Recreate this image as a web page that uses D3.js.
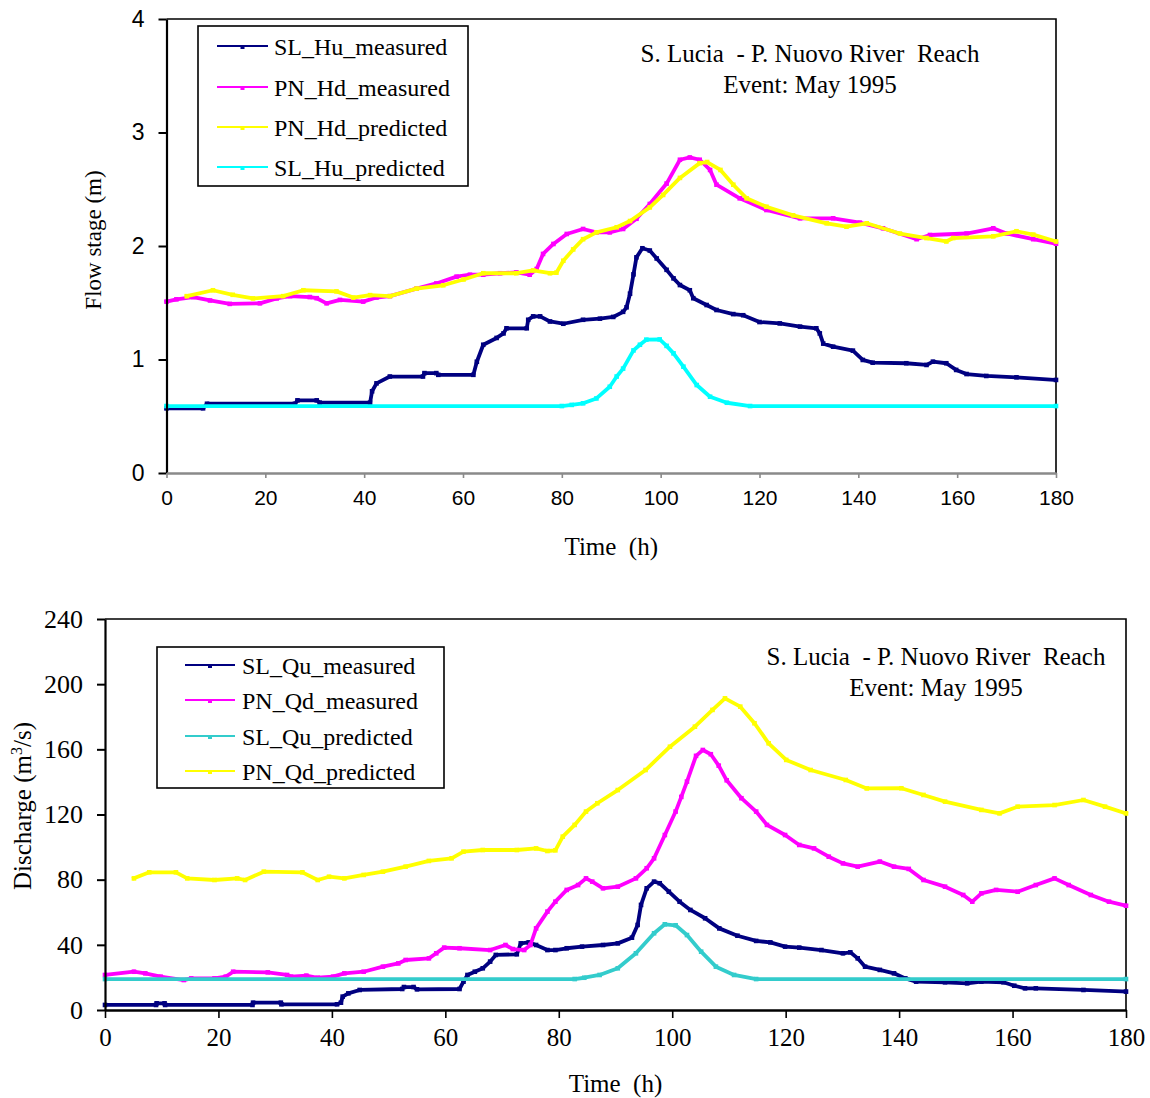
<!DOCTYPE html>
<html>
<head>
<meta charset="utf-8">
<script src="https://cdn.jsdelivr.net/npm/d3@7"></script>
<style>
  html, body { margin: 0; padding: 0; background: #fff; }
  svg { display: block; }
  text { font-family: "Liberation Serif", "Times New Roman", serif; fill: #000; }
</style>
</head>
<body>
<svg id="chart" width="1150" height="1098"></svg>
<script>
// ---- Time axis (hours) ----
const timeTicks = [0, 20, 40, 60, 80, 100, 120, 140, 160, 180];

// ---- Flow stage (m), upper panel: [time h, stage m] ----
const stageTicks = [0, 1, 2, 3, 4];
const slHuMeasured = [[0,0.57],[7.4,0.57],[8.2,0.61],[26,0.61],[26.5,0.64],[30.4,0.64],[31,0.62],[41.2,0.62],[41.6,0.72],[42.5,0.79],[45.2,0.85],[51.9,0.85],[52.2,0.88],[54.6,0.88],[55,0.865],[62.1,0.865],[62.8,0.98],[64.1,1.13],[66.8,1.19],[68.2,1.23],[68.8,1.275],[72.9,1.275],[73.2,1.35],[74.2,1.38],[75.6,1.38],[77.6,1.335],[80.3,1.315],[84.3,1.35],[87.7,1.36],[90.4,1.375],[92.4,1.42],[93.1,1.46],[93.8,1.58],[94.5,1.75],[95.1,1.9],[96.3,1.98],[97.8,1.96],[99.2,1.89],[101.2,1.79],[102.6,1.715],[103.9,1.656],[105.9,1.61],[106.6,1.54],[109.3,1.48],[111.3,1.436],[114.7,1.4],[116.7,1.39],[120,1.33],[124.1,1.318],[128.2,1.29],[131.5,1.275],[132.2,1.23],[132.9,1.14],[134.9,1.113],[138.9,1.078],[140.9,0.996],[142.9,0.972],[149.7,0.967],[153.8,0.952],[155.1,0.981],[157.8,0.967],[159.8,0.908],[161.9,0.872],[165.9,0.855],[172,0.843],[180,0.82]];
const pnHdMeasured = [[0,1.51],[2,1.53],[5.4,1.55],[8.8,1.52],[12.8,1.49],[18.9,1.495],[22.3,1.538],[25,1.558],[29,1.55],[30.4,1.54],[32.4,1.495],[35.1,1.525],[39.8,1.51],[42.5,1.546],[45.2,1.558],[50.6,1.625],[54.6,1.67],[58.7,1.73],[61.4,1.747],[64.1,1.747],[67.5,1.76],[70.8,1.767],[73.5,1.747],[74.9,1.797],[76.2,1.93],[78.3,2.018],[81,2.106],[84.3,2.15],[87,2.12],[89.7,2.12],[92.4,2.15],[95.1,2.24],[97.8,2.37],[101.2,2.55],[103.9,2.76],[105.9,2.78],[107.9,2.76],[110,2.67],[111.3,2.54],[116,2.42],[121.4,2.317],[128.2,2.244],[134.9,2.244],[140.3,2.206],[145,2.156],[151.8,2.06],[154.5,2.097],[161.9,2.11],[167.3,2.156],[170,2.11],[175.4,2.06],[180,2.02]];
const pnHdPredicted = [[4.1,1.558],[9.4,1.61],[13.4,1.57],[17.5,1.538],[23.6,1.558],[27.7,1.61],[34.4,1.6],[37.8,1.546],[41.2,1.567],[45.2,1.558],[50.6,1.625],[56,1.654],[60.1,1.705],[64.1,1.76],[70.8,1.76],[74.2,1.785],[77.6,1.76],[78.9,1.765],[80.3,1.87],[82.3,1.97],[84.3,2.06],[87,2.12],[91.1,2.165],[93.8,2.22],[97.8,2.34],[100.5,2.45],[103.9,2.6],[107.9,2.73],[109.4,2.74],[112.1,2.67],[114.7,2.54],[117.4,2.42],[121.4,2.346],[126.8,2.27],[133.6,2.2],[137.6,2.17],[141.7,2.2],[148.4,2.11],[153.8,2.07],[157.8,2.04],[159.2,2.07],[167.3,2.085],[172,2.13],[175.4,2.1],[180,2.04]];
const slHuPredicted = [[0,0.59],[80,0.59],[82,0.6],[84.3,0.614],[87,0.657],[89.7,0.76],[91.1,0.85],[92.4,0.92],[94.5,1.08],[95.8,1.13],[97.1,1.175],[99.8,1.177],[101.2,1.12],[102.6,1.054],[104.6,0.937],[107.3,0.775],[110,0.672],[113.4,0.619],[118.1,0.59],[180,0.59]];

// ---- Discharge (m3/s), lower panel: [time h, discharge] ----
const dischargeTicks = [0, 40, 80, 120, 160, 200, 240];
const slQuMeasured = [[0,3.1],[9,3.1],[9.1,4.1],[10.5,4.1],[10.6,3.1],[26,3.1],[26.1,4.5],[31,4.5],[31.1,3.5],[40.9,3.5],[41.6,4.5],[41.9,8.2],[42.9,10.2],[44.9,12.3],[52.4,12.9],[52.7,14.1],[54.4,14.1],[55,12.7],[62.5,12.9],[63.2,17.4],[63.9,21.5],[65.2,23.5],[66.6,25.6],[67.9,29.7],[68.9,33.8],[72.6,34.2],[73.3,40.9],[74.7,41.5],[76,39.9],[78,36.8],[79.4,36.8],[81.4,37.9],[84.1,38.9],[87.8,39.9],[90.4,40.9],[92.9,44.4],[93.9,52.2],[94.5,64.5],[95.5,74.7],[96.8,78.8],[97.8,77.8],[99.4,72.6],[101.3,66.5],[103.2,61.4],[105.8,56.3],[108.3,50.1],[111.5,45.6],[114.8,42.4],[117.3,41.5],[119.9,38.9],[122.4,38.3],[126.3,36.8],[130.1,34.8],[131.4,35.4],[132.7,31.7],[134,26.6],[136.6,24.6],[139.1,22.5],[141.1,19.4],[143,17.4],[148.1,17],[152,16.4],[154.5,17.4],[158.4,17],[160.3,14.9],[162.2,13.3],[164.1,13.3],[172.5,12.3],[180,11.3]];
const pnQdMeasured = [[0,21.5],[5.1,23.5],[7.1,22.5],[9.8,20.5],[13.9,18.4],[15.2,19.4],[19.3,19.4],[21.3,20.5],[22.6,23.5],[28.7,23.1],[32.1,21.5],[32.8,20.5],[35.5,21.1],[37.5,19.8],[40.2,20.5],[42.2,22.5],[45.6,23.5],[49,26.6],[51.7,28.6],[53,30.7],[57.1,31.7],[58.4,34.8],[59.8,38.3],[62.5,37.9],[67.9,36.8],[70.6,39.9],[71.9,37.4],[73.9,36.8],[75,39.9],[76,50.1],[78,60.4],[79.4,66.5],[81.4,73.7],[83.4,76.7],[84.8,80.8],[85.9,78.8],[87.8,74.7],[90.4,75.7],[93.6,80.8],[95.5,87],[96.8,93.1],[98.7,107.4],[100.6,121.8],[101.6,130.8],[102.6,140.2],[104.2,156],[105.4,159.6],[106.8,157],[108.2,150],[109.6,141],[112.2,130],[114.8,121.8],[116.7,113.6],[119.9,107.4],[122.4,101.3],[125,99.2],[127.6,94.1],[130.1,90],[132.7,88],[136.6,91.1],[139.1,88],[141.7,86.6],[144.3,79.8],[148.1,75.7],[151.3,70.6],[152.9,66.5],[154.5,71.6],[157.1,73.7],[160.9,72.6],[164.1,76.7],[167.4,80.8],[169.9,76.7],[173.8,70.6],[177,66.5],[180,64]];
const slQuPredicted = [[0,19],[82.8,19],[84.5,19.8],[87.2,21.5],[90.4,25.6],[93.6,34.8],[96.8,47.1],[98.7,52.6],[100.6,52],[102.6,46],[105.1,35.8],[107.7,26.6],[110.9,21.5],[114.8,19],[180,19]];
const pnQdPredicted = [[5.1,80.8],[7.8,84.5],[12.5,84.5],[14.5,80.8],[19.3,79.8],[23.3,80.8],[24.7,79.8],[28,84.9],[34.8,84.5],[37.5,79.8],[39.5,81.8],[42.2,80.8],[45.6,82.9],[49,84.9],[53,88],[57.1,91.5],[61.1,93.1],[63.2,97.2],[66.6,98.2],[72.6,98.2],[76,99.2],[78,97.6],[79.4,98],[80.7,106.4],[82.8,113.6],[84.8,121.8],[86.8,126.9],[90.4,135],[95.3,147.3],[99.6,161.6],[104,173.9],[107.1,184.2],[109.3,191.3],[112,186.2],[114.5,176],[117,163.7],[120.1,153.5],[124.4,147.3],[130.6,141.2],[134.3,136],[140.4,136.1],[144.3,132],[148.1,127.9],[154.5,122.8],[157.7,120.7],[160.9,124.8],[167.4,125.8],[172.5,128.9],[176.3,124.8],[180,120.7]];

const titleLines = ["S. Lucia  - P. Nuovo River  Reach", "Event: May 1995"];

const svg = d3.select("#chart");
svg.append("rect").attr("width", 1150).attr("height", 1098).attr("fill", "#fff");

function drawPanel(cfg) {
  const g = svg.append("g");
  const x = d3.scaleLinear([0, 180], [cfg.left, cfg.right]);
  const y = d3.scaleLinear([cfg.yTicks[0], cfg.yTicks[cfg.yTicks.length - 1]], [cfg.bottom, cfg.top]);

  // top and right frame of the plot area
  g.append("path")
    .attr("d", `M${cfg.left},${cfg.top}H${cfg.right}V${cfg.bottom}`)
    .attr("fill", "none").attr("stroke", "#000").attr("stroke-width", 1.6);

  // series: line plus a small square marker on every sample
  const line = d3.line().x(d => x(d[0])).y(d => y(d[1]));
  cfg.series.forEach(s => {
    g.append("path").datum(s.data)
      .attr("d", line).attr("fill", "none")
      .attr("stroke", s.color).attr("stroke-width", 3.8)
      .attr("stroke-linejoin", "round").attr("stroke-linecap", "square");
    g.append("g").selectAll("rect").data(s.data).join("rect")
      .attr("x", d => x(d[0]) - 2.3).attr("y", d => y(d[1]) - 2.3)
      .attr("width", 4.6).attr("height", 4.6).attr("fill", s.color);
  });

  // y axis
  const yAxis = g.append("g").attr("transform", `translate(${cfg.left},0)`)
    .call(d3.axisLeft(y).tickValues(cfg.yTicks).tickSize(8).tickSizeOuter(0).tickPadding(14).tickFormat(d3.format("d")));
  yAxis.select(".domain").attr("stroke", "#000").attr("stroke-width", 2.2);
  yAxis.selectAll(".tick line").attr("stroke", "#000").attr("stroke-width", 2);
  yAxis.selectAll("text").attr("fill", "#000")
    .style("font-family", cfg.yFont).style("font-size", cfg.yFontSize + "px");

  // x axis
  const xAxis = g.append("g").attr("transform", `translate(0,${cfg.bottom})`)
    .call(d3.axisBottom(x).tickValues(timeTicks).tickSize(cfg.xTickLen).tickSizeOuter(0).tickPadding(cfg.xPad).tickFormat(d3.format("d")));
  xAxis.select(".domain").attr("stroke", cfg.xColor).attr("stroke-width", 2.4);
  xAxis.selectAll(".tick line").attr("stroke", cfg.xColor).attr("stroke-width", 1.6);
  xAxis.selectAll("text").attr("fill", "#000")
    .style("font-family", cfg.xFont).style("font-size", cfg.xFontSize + "px");

  // axis titles
  g.append("text").attr("x", (cfg.left + cfg.right) / 2).attr("y", cfg.xTitleY)
    .attr("text-anchor", "middle").style("font-size", "25px").style("white-space", "pre")
    .text("Time  (h)");
  const yt = g.append("text")
    .attr("transform", `translate(${cfg.yTitleX},${cfg.yTitleY}) rotate(-90)`)
    .attr("text-anchor", "middle").style("font-size", cfg.yTitleSize + "px").style("white-space", "pre");
  cfg.yTitle(yt);

  // title block
  titleLines.forEach((t, i) => {
    g.append("text").attr("x", cfg.titleX).attr("y", cfg.titleY + i * 31)
      .attr("text-anchor", "middle").style("font-size", "25px").style("white-space", "pre")
      .text(t);
  });

  // legend
  const lg = g.append("g");
  lg.append("rect").attr("x", cfg.legend.x).attr("y", cfg.legend.y)
    .attr("width", cfg.legend.w).attr("height", cfg.legend.h)
    .attr("fill", "#fff").attr("stroke", "#000").attr("stroke-width", 1.6);
  cfg.series.forEach((s, i) => {
    const ly = cfg.legend.rowY[i];
    lg.append("line").attr("x1", cfg.legend.lx1).attr("x2", cfg.legend.lx2)
      .attr("y1", ly).attr("y2", ly).attr("stroke", s.color).attr("stroke-width", 2.2);
    lg.append("rect").attr("x", (cfg.legend.lx1 + cfg.legend.lx2) / 2 - 2).attr("y", ly - 1)
      .attr("width", 4).attr("height", 4).attr("fill", s.color);
    lg.append("text").attr("x", cfg.legend.tx).attr("y", ly + 8.5)
      .style("font-size", "24px").text(s.name);
  });
}

drawPanel({
  left: 166.5, right: 1056, top: 19, bottom: 473,
  yTicks: stageTicks,
  yFont: "'Liberation Sans', Arial, sans-serif", yFontSize: 23,
  xFont: "'Liberation Sans', Arial, sans-serif", xFontSize: 21,
  xColor: "#8a8a8a", xTickLen: 5, xPad: 12,
  xTitleY: 555,
  yTitleX: 101, yTitleY: 240, yTitleSize: 23,
  yTitle: t => t.text("Flow stage (m)"),
  titleX: 810, titleY: 62,
  legend: { x: 198, y: 26, w: 270, h: 160, lx1: 217, lx2: 268, tx: 274, rowY: [46, 87, 127, 167] },
  series: [
    { name: "SL_Hu_measured", color: "#000080", data: slHuMeasured },
    { name: "PN_Hd_measured", color: "#ff00ff", data: pnHdMeasured },
    { name: "PN_Hd_predicted", color: "#ffff00", data: pnHdPredicted },
    { name: "SL_Hu_predicted", color: "#00ffff", data: slHuPredicted }
  ]
});

drawPanel({
  left: 105, right: 1126, top: 619, bottom: 1010,
  yTicks: dischargeTicks,
  yFont: "'Liberation Serif', 'Times New Roman', serif", yFontSize: 26,
  xFont: "'Liberation Serif', 'Times New Roman', serif", xFontSize: 25,
  xColor: "#000", xTickLen: 8, xPad: 10,
  xTitleY: 1092,
  yTitleX: 31, yTitleY: 806, yTitleSize: 25,
  yTitle: t => {
    t.append("tspan").text("Discharge (m");
    t.append("tspan").attr("dy", -9).style("font-size", "16px").text("3");
    t.append("tspan").attr("dy", 9).text("/s)");
  },
  titleX: 936, titleY: 665,
  legend: { x: 157, y: 647, w: 287, h: 141, lx1: 185, lx2: 235, tx: 242, rowY: [665, 700, 736, 771] },
  series: [
    { name: "SL_Qu_measured", color: "#000080", data: slQuMeasured },
    { name: "PN_Qd_measured", color: "#ff00ff", data: pnQdMeasured },
    { name: "SL_Qu_predicted", color: "#33cccc", data: slQuPredicted },
    { name: "PN_Qd_predicted", color: "#ffff00", data: pnQdPredicted }
  ]
});
</script>
</body>
</html>
